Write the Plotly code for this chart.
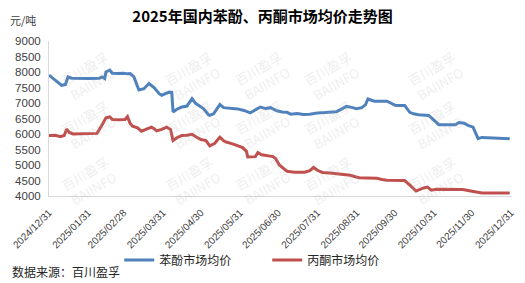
import plotly.graph_objects as go

phenol_dates = ["2024-12-31","2025-01-03","2025-01-07","2025-01-10","2025-01-13","2025-01-15","2025-01-18","2025-01-24",
"2025-02-01","2025-02-09","2025-02-11","2025-02-13","2025-02-14","2025-02-17","2025-02-19","2025-02-23","2025-02-28",
"2025-03-03","2025-03-05","2025-03-08","2025-03-12","2025-03-16","2025-03-20","2025-03-24","2025-03-28","2025-03-30",
"2025-04-05","2025-04-07","2025-04-08","2025-04-11","2025-04-15","2025-04-19","2025-04-22","2025-04-23","2025-04-26","2025-04-29",
"2025-05-02","2025-05-06","2025-05-07","2025-05-10","2025-05-14","2025-05-15","2025-05-18","2025-05-23","2025-05-29",
"2025-06-03","2025-06-08","2025-06-12","2025-06-16","2025-06-20","2025-06-24","2025-06-29",
"2025-07-03","2025-07-07","2025-07-10","2025-07-15","2025-07-20","2025-07-25","2025-07-31",
"2025-08-06","2025-08-10","2025-08-15","2025-08-18","2025-08-23","2025-08-27","2025-08-31",
"2025-09-04","2025-09-07","2025-09-09","2025-09-11","2025-09-14","2025-09-24","2025-09-27",
"2025-10-01","2025-10-08","2025-10-12","2025-10-15","2025-10-19","2025-10-27","2025-10-31",
"2025-11-04","2025-11-17","2025-11-20","2025-11-24","2025-11-27",
"2025-12-01","2025-12-05","2025-12-08","2025-12-13","2025-12-30"]
phenol_values = [7900,7800,7650,7570,7600,7840,7800,7790,
7790,7800,7840,7790,8000,8060,7960,7950,7960,
7940,7950,7850,7420,7460,7630,7500,7300,7250,
7350,7340,6710,6800,6870,6900,7100,7140,6980,6900,
6820,6620,6600,6650,6900,6950,6850,6840,6810,
6760,6680,6780,6870,6820,6850,6750,
6710,6700,6640,6660,6630,6640,6680,
6690,6710,6720,6780,6890,6860,6815,
6850,6940,7130,7110,7060,7060,7000,
6920,6920,6700,6650,6620,6600,6450,
6300,6300,6370,6350,6280,
6220,5850,5890,5880,5850]

acetone_dates = ["2024-12-31","2025-01-05","2025-01-09","2025-01-12","2025-01-14","2025-01-16","2025-01-19","2025-01-24",
"2025-02-01","2025-02-07","2025-02-11","2025-02-14","2025-02-17","2025-02-19","2025-02-24",
"2025-03-01","2025-03-03","2025-03-05","2025-03-07","2025-03-11","2025-03-14","2025-03-18","2025-03-22","2025-03-24","2025-03-26","2025-03-30",
"2025-04-03","2025-04-06","2025-04-08","2025-04-11","2025-04-15","2025-04-19","2025-04-23","2025-04-26","2025-04-30",
"2025-05-04","2025-05-07","2025-05-11","2025-05-15","2025-05-18","2025-05-20","2025-05-25","2025-05-29",
"2025-06-02","2025-06-05","2025-06-06","2025-06-12","2025-06-14","2025-06-17","2025-06-22","2025-06-26","2025-06-28",
"2025-07-01","2025-07-04","2025-07-07","2025-07-13","2025-07-21","2025-07-25","2025-07-28","2025-07-31",
"2025-08-04","2025-08-10","2025-08-14","2025-08-21","2025-08-26","2025-08-30",
"2025-09-02","2025-09-08","2025-09-16","2025-09-20","2025-09-24",
"2025-10-08","2025-10-11","2025-10-13","2025-10-17","2025-10-21","2025-10-23","2025-10-26","2025-10-29",
"2025-11-02","2025-11-09","2025-11-17","2025-11-23","2025-11-27",
"2025-12-03","2025-12-08","2025-12-30"]
acetone_values = [5950,5960,5910,5950,6160,6050,6000,6010,
6010,6020,6300,6520,6550,6470,6460,
6470,6560,6350,6250,6200,6090,6150,6220,6170,6100,6150,
6220,6150,5790,5880,5950,5960,5990,5910,5820,
5790,5620,5700,5900,5780,5740,5680,5630,
5560,5440,5260,5270,5400,5330,5310,5270,5210,
5000,4900,4800,4770,4770,4820,4920,4830,
4760,4740,4720,4680,4670,4620,
4590,4580,4570,4530,4510,
4500,4400,4320,4160,4230,4260,4290,4190,
4220,4220,4210,4210,4180,
4140,4100,4100]

tick_dates = ["2024-12-31","2025-01-31","2025-02-28","2025-03-31","2025-04-30","2025-05-31","2025-06-30",
              "2025-07-31","2025-08-31","2025-09-30","2025-10-31","2025-11-30","2025-12-31"]
tick_labels = ["2024/12/31","2025/01/31","2025/02/28","2025/03/31","2025/04/30","2025/05/31","2025/06/30",
               "2025/07/31","2025/08/31","2025/09/30","2025/10/31","2025/11/30","2025/12/31"]
y_ticks = [4000,4500,5000,5500,6000,6500,7000,7500,8000,8500,9000]

series_names = ["苯酚市场均价", "丙酮市场均价"]
colors = ["#4F81BD", "#C0504D"]

CJK = "Noto Sans CJK SC"
LAT = "Liberation Sans"

fig = go.Figure()
fig.add_trace(go.Scatter(x=phenol_dates, y=phenol_values, mode="lines", name=series_names[0],
                         line=dict(color=colors[0], width=3)))
fig.add_trace(go.Scatter(x=acetone_dates, y=acetone_values, mode="lines", name=series_names[1],
                         line=dict(color=colors[1], width=3)))

# watermarks
wm_x = [55, 160, 265, 370, 475]
wm_y = [45, 125, 212]
annotations = []
for yy in wm_y:
    for xx in wm_x:
        annotations.append(dict(
            x=(xx - 49) / 467, y=(196 - yy) / 155, xref="paper", yref="paper",
            text="百川盈孚<br>BAIINFO", showarrow=False, textangle=-30,
            font=dict(family=CJK, size=13, color="rgba(170,170,170,0.22)")))

annotations.append(dict(x=(8 - 49) / 467, y=(196 - 20) / 155, xref="paper", yref="paper",
                        text="元/吨", showarrow=False, xanchor="left", yanchor="middle",
                        font=dict(family=CJK, size=11, color="#404040")))
annotations.append(dict(x=(10 - 49) / 467, y=(196 - 271) / 155, xref="paper", yref="paper",
                        text="数据来源：百川盈孚", showarrow=False, xanchor="left", yanchor="middle",
                        font=dict(family=CJK, size=12, color="#262626")))

fig.update_layout(
    width=525, height=283,
    margin=dict(l=49, r=9, t=41, b=87),
    paper_bgcolor="white", plot_bgcolor="white",
    title=dict(text="<b>2025年国内苯酚、丙酮市场均价走势图</b>", x=0.5, xanchor="center",
               y=1 - 17 / 283, yanchor="middle", font=dict(family=CJK, size=15, color="#000000")),
    showlegend=True,
    legend=dict(orientation="h", x=(120 - 49) / 467, xanchor="left", y=(196 - 260) / 155, yanchor="middle",
                font=dict(family=CJK, size=12, color="#262626"), itemwidth=30,
                entrywidth=103, entrywidthmode="pixels",
                bgcolor="rgba(0,0,0,0)"),
    annotations=annotations,
    xaxis=dict(type="date", range=["2024-12-31", "2025-12-31"], tickvals=tick_dates, ticktext=tick_labels,
               tickangle=-45, showgrid=False, showline=True, linecolor="#D9D9D9", linewidth=1,
               ticks="", tickfont=dict(family=LAT, size=10, color="#404040"), zeroline=False,
               ticklabelstandoff=6),
    yaxis=dict(range=[4000, 9000], tickvals=y_ticks, showgrid=False, showline=True, linecolor="#D9D9D9",
               linewidth=1, ticks="", tickfont=dict(family=LAT, size=11.5, color="#404040"),
               zeroline=False, ticklabelstandoff=5),
)

fig.write_html("out.html")
